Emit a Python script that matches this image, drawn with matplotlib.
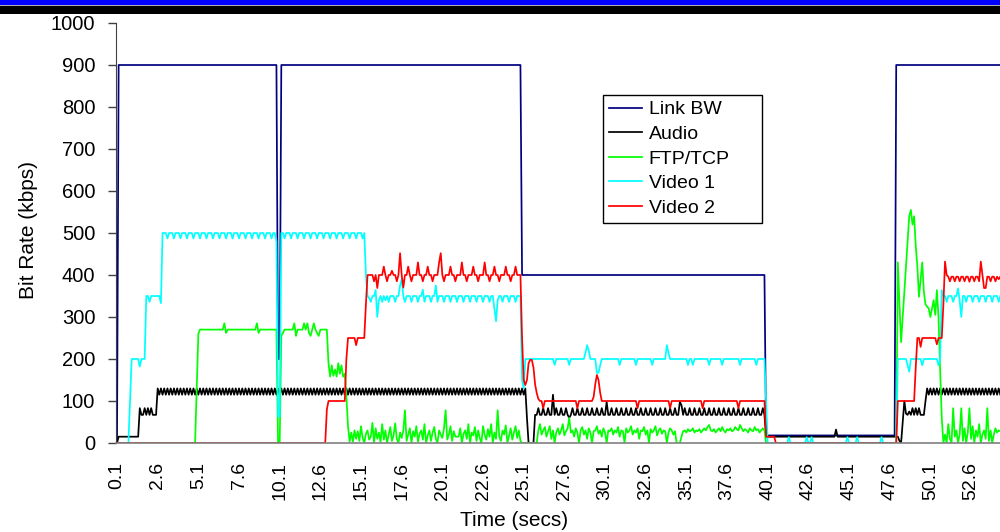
import matplotlib
matplotlib.use("Agg")
import matplotlib.pyplot as plt
from matplotlib.patches import Rectangle
import numpy as np

# samples every 0.1 s starting at 0.1 s (category axis, like the spreadsheet)
TICK_LABELS = ["0.1", "2.6", "5.1", "7.6", "10.1", "12.6", "15.1", "17.6", "20.1", "22.6", "25.1",
               "27.6", "30.1", "32.6", "35.1", "37.6", "40.1", "42.6", "45.1", "47.6", "50.1", "52.6"]

link_bw = [0] + [900] * 98 + [200] * 2 + [900] * 148 + [400] * 150 + [18] * 80 + [900] * 65

audio = ([0] + [15] * 13 + [83, 67, 67, 83, 67, 83, 67, 83, 67, 67, 67]
         + [130, 115] * 112 + [130]
         + [115, 130, 60, 0, 0, 0, 0, 67, 67]
         + [83, 67, 67, 83, 67, 67, 83, 67, 67] + [115]
         + [67, 83, 67, 67, 83, 67, 67, 83, 67] + [60]
         + [67, 83, 67, 67] + [83, 67, 67] * 6 + [98]
         + [67, 67] + [83, 67, 67] * 14 + [98, 90]
         + [67, 83, 67] * 17
         + [15] * 43 + [32] + [15] * 36
         + [15, 15, 5, 0, 50, 100, 70, 67, 75, 67, 83, 67, 83, 67, 83, 67, 67, 67, 100]
         + [130, 115] * 23)

ftp_tcp = ([0] * 49 + [130, 260]
           + [270] * 15 + [285, 262] + [270] * 18 + [285, 262] + [270] * 11
           + [0, 0]
           + [255, 262] + [270] * 6 + [285, 255] + [270] * 4
           + [285, 270, 285, 262, 255, 270, 285, 270, 262, 255] + [270] * 5
           + [190, 158, 185, 160, 175, 158, 190, 165, 185, 158, 165, 110, 40, 3]
           + [25, 3, 30, 10, 28, 5, 40, 12, 0, 22,
              30, 8, 15, 48, 0, 35, 10, 25, 2, 45,
              8, 30, 0, 20, 38, 5, 18, 47, 10, 0,
              25, 12, 30, 78, 5, 20, 35, 0, 28, 15,
              40, 3, 22, 30, 8, 45, 0, 18, 30, 5,
              25, 38, 10, 0, 30, 20, 12, 35, 78, 8,
              20, 40, 5, 28, 15, 15, 15, 35, 0, 22,
              30, 10, 45, 0, 25, 18, 38, 5, 30, 12,
              0, 40, 20, 8, 33, 15, 45, 0, 25, 10,
              78, 15, 5, 30, 20, 42, 0, 18, 35, 8,
              25, 40, 12, 30, 5, 0]
           + [0] * 9
           + [30, 45, 20, 30, 38, 15, 28, 40, 10, 30,
              0, 25, 35, 20, 30, 45, 18, 28, 35, 60,
              25, 30, 15, 35, 25, 0, 30, 38, 20, 30,
              10, 35, 25, 0, 28, 30, 40, 22, 30, 15,
              35, 25, 0, 30, 28, 35, 20, 30, 25, 38,
              15, 30, 28, 0, 35, 25, 30, 40, 20, 30,
              25, 35, 10, 30, 28, 38, 20, 30, 0, 33,
              25, 30, 40, 18, 30, 35, 22, 30, 28, 0,
              25, 35, 30, 20, 28, 0, 0, 0, 15, 28,
              30, 25, 33, 28, 30, 35, 25, 30, 28, 33,
              25, 30, 35, 30, 38, 43, 30, 28, 33, 25,
              30, 35, 28, 38, 30, 25, 33, 30, 35, 28,
              30, 38, 33, 30, 43, 35, 28, 33, 30, 25,
              35, 30, 28, 38, 30, 33, 25, 30, 35, 30]
           + [0] * 81
           + [430, 330, 240, 300, 360, 420, 480, 540, 555, 520, 540, 470, 420, 348, 390,
              430, 360, 330, 325, 320, 300, 320, 340, 305, 364, 300, 174, 60, 0]
           + [20, 0, 45, 10, 0, 83, 15, 30, 0, 20, 83, 5, 35, 0, 25, 83, 10, 40, 0, 30,
              15, 45, 0, 20, 30, 10, 83, 5, 30, 0, 20, 35, 25, 30, 28])

video1 = ([0] * 8 + [100]
          + [200, 200, 200, 200, 200, 182, 200, 200, 200]
          + [350, 350, 336, 350, 350, 350, 350, 350, 350, 333]
          + [500, 500, 500, 487] * 17 + [500, 500]
          + [480, 63, 63]
          + [500, 500, 487, 500] * 13
          + [400]
          + [350, 345, 336, 350, 350, 364, 300, 340, 350, 336,
             350, 340, 350, 336, 350, 350, 350, 336, 350, 350,
             375, 390, 350, 336, 350, 350, 350, 336, 350, 350,
             350, 336, 350, 350, 365, 336, 350, 350, 350, 336,
             350, 350, 375, 336, 350, 350, 350, 336, 350, 350,
             350, 336, 350, 350, 350, 336, 350, 350, 350, 336,
             350, 350, 350, 336, 350, 350, 350, 336, 350, 350,
             350, 336, 350, 350, 350, 336, 350, 350, 320, 290,
             340, 350, 350, 336, 350, 350, 350, 336, 350, 350,
             350, 336, 350, 350, 350]
          + [150, 130]
          + [200] * 18 + [186] + [200] * 8 + [186] + [200] * 9 + [215, 233, 220]
          + [200] * 4 + [167, 167, 185] + [200] * 11 + [186] + [200] * 9 + [186]
          + [200] * 9 + [186] + [200] * 8 + [233, 215] + [200] * 11 + [186]
          + [200] * 2 + [186] + [200] * 9 + [186] + [200] * 7 + [186]
          + [200] * 10 + [186] + [200] * 9 + [186] + [200] * 5
          + [100] + [0] * 13 + [14] + [0] * 10 + [14] + [0] * 2 + [14] + [0] * 21
          + [14] + [0] * 5 + [14] + [0] * 14 + [14] + [0] * 9
          + [200] * 6 + [185, 170] + [200] * 7 + [185] + [200] * 9 + [185, 200, 364]
          + [350, 350, 336, 350, 350, 350, 336, 350, 350, 368, 340, 300,
             350, 350, 336, 350, 350, 350, 336, 350, 350, 350, 336, 350,
             350, 350, 336, 350, 350, 350, 336, 350, 350, 350, 336, 350])

video2 = ([0] * 129 + [80] + [100] * 11 + [200]
          + [250, 250, 250, 250, 250, 233, 250, 250, 250, 250, 250]
          + [330]
          + [400, 400, 400, 400, 385, 400, 369, 400, 400, 400,
             420, 400, 385, 400, 400, 410, 400, 400, 385, 400,
             452, 400, 370, 400, 400, 420, 400, 385, 400, 400,
             400, 430, 400, 400, 385, 400, 400, 420, 400, 400,
             385, 400, 400, 400, 430, 452, 400, 385, 400, 400,
             400, 420, 400, 400, 385, 400, 400, 400, 430, 400,
             400, 385, 400, 400, 400, 420, 400, 400, 385, 400,
             400, 400, 430, 400, 400, 385, 400, 400, 420, 400,
             400, 385, 400, 400, 400, 420, 400, 400, 385, 400,
             400, 420, 400, 400, 400]
          + [250, 150, 138, 150, 190, 198, 198, 180, 140, 119, 105]
          + [100, 100] + [83] + [100] * 20 + [83] + [100] * 9
          + [110, 140, 162, 150, 120]
          + [100] * 22 + [83] + [100] * 19 + [83] + [100] * 19 + [83]
          + [100] * 21 + [83] + [100] * 16
          + [15] * 6 + [0] * 75
          + [100] * 11 + [180]
          + [250, 250, 229] + [250] * 9 + [235, 250, 250, 250, 330]
          + [432, 400, 396, 385, 396, 396, 385, 396, 396, 385, 396, 396, 385, 396, 396,
             384, 396, 396, 385, 396, 396, 385, 432, 400, 369, 369, 396, 396, 385, 396,
             396, 385, 396, 390, 396])

plt.rcParams["font.family"] = ["Liberation Sans", "DejaVu Sans"]

fig = plt.figure(figsize=(10, 5.32), dpi=100)

# slide header bars
fig.add_artist(Rectangle((0, 1 - 4.5 / 532), 1, 4.5 / 532, transform=fig.transFigure,
                         color="#0000FF", lw=0))
fig.add_artist(Rectangle((0, 1 - 5.6 / 532), 1, 1.1 / 532, transform=fig.transFigure,
                         color="#B0B0B0", lw=0))
fig.add_artist(Rectangle((0, 1 - 13.5 / 532), 1, 7 / 532, transform=fig.transFigure,
                         color="#000000", lw=0))

ax = fig.add_axes([0.1162, 1 - 443 / 532, 1 - 0.1162, 420 / 532])

series = [
    ("Link BW", link_bw, "#000080"),
    ("Audio", audio, "#000000"),
    ("FTP/TCP", ftp_tcp, "#00FF00"),
    ("Video 1", video1, "#00FFFF"),
    ("Video 2", video2, "#FF0000"),
]
for name, vals, col in series:
    ax.plot(np.arange(len(vals)), vals, color=col, lw=1.25, label=name)

ax.set_xlim(-0.5, 542.8)
ax.set_ylim(0, 1000)
ax.set_yticks(np.arange(0, 1001, 100))
ax.set_xticks(np.arange(len(TICK_LABELS)) * 25)
ax.set_xticklabels(TICK_LABELS, rotation=90)
ax.tick_params(axis="y", direction="out", length=6, width=1, pad=9, labelsize=14.5, color="#404040")
ax.tick_params(axis="x", length=0, pad=13.5, labelsize=14)
for s in ["top", "right"]:
    ax.spines[s].set_visible(False)
ax.spines["left"].set_color("#404040")
ax.spines["bottom"].set_color("#808080")
ax.spines["bottom"].set_linewidth(1.2)

fig.text(0.028, 1 - 230 / 532, "Bit Rate (kbps)", rotation=90, ha="center", va="center", fontsize=15)
fig.text(0.5145, 1 - 521 / 532, "Time (secs)", ha="center", va="center", fontsize=15)

leg = ax.legend(loc="upper left", mode="expand",
                bbox_to_anchor=(0.603, 1 - 218 / 532, 0.159, 123 / 532), bbox_transform=fig.transFigure,
                fontsize=14, frameon=True, fancybox=False, edgecolor="black", framealpha=1,
                borderpad=0.3, handlelength=1.7, handletextpad=0.35, labelspacing=0.36,
                borderaxespad=0)
leg.get_frame().set_linewidth(1.0)

fig.savefig("out.png", dpi=100)
